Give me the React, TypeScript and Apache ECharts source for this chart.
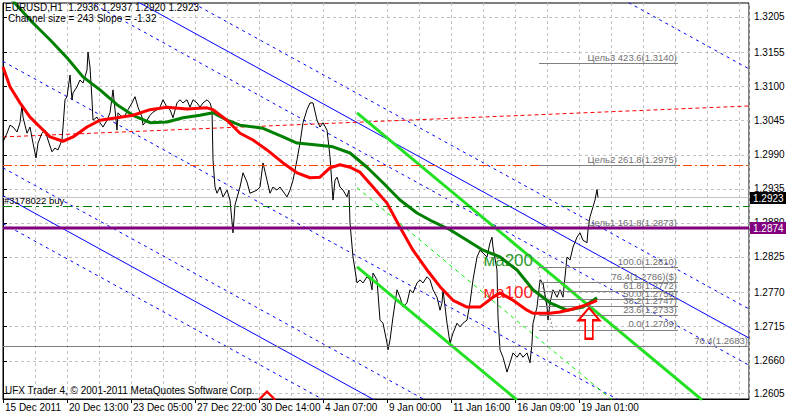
import React, { useEffect, useRef } from 'react';
import * as echarts from 'echarts';

const FONT = 'Liberation Sans, Arial, sans-serif';

// X axis: bar index (H1 bars)
const X_MAX = 746;
const X_LABEL_POS = [0, 64, 128, 192, 256, 320, 384, 448, 512, 576];
const X_LABELS = ['15 Dec 2011', '20 Dec 13:00', '23 Dec 05:00', '27 Dec 22:00', '30 Dec 14:00', '4 Jan 07:00', '9 Jan 00:00', '11 Jan 16:00', '16 Jan 09:00', '19 Jan 01:00'];

// Y axis
const Y_MIN = 1.25975;
const Y_MAX = 1.32374;
const Y_TICKS = [1.2607, 1.2659, 1.2715, 1.2770, 1.2827, 1.2882, 1.2937, 1.2992, 1.3048, 1.3103, 1.3158, 1.3215];
const Y_LABELS = ['1.2605', '1.2660', '1.2715', '1.2770', '1.2825', '1.2880', '1.2935', '1.2990', '1.3045', '1.3100', '1.3155', '1.3205'];

// Close prices [bar, price]
const PRICE: [number, number][] = [
  [0, 1.3013], [4, 1.3027], [7, 1.3040], [10, 1.3037], [14, 1.3029], [17, 1.3044], [19, 1.3073], [20, 1.3053], [24, 1.3027], [27, 1.3037],
  [30, 1.3011], [33, 1.2987], [35, 1.3011], [39, 1.3027], [42, 1.3032], [45, 1.3016], [49, 1.2997], [52, 1.3003], [55, 1.3000], [59, 1.3016],
  [60, 1.3037], [62, 1.3081], [64, 1.3086], [67, 1.3121], [69, 1.3081], [70, 1.3092], [74, 1.3102], [77, 1.3113], [80, 1.3108], [84, 1.3129],
  [85, 1.3158], [87, 1.3134], [89, 1.3081], [90, 1.3048], [94, 1.3053], [97, 1.3044], [100, 1.3037], [104, 1.3048], [107, 1.3060], [110, 1.3097],
  [112, 1.3065], [114, 1.3032], [115, 1.3060], [119, 1.3053], [122, 1.3056], [125, 1.3065], [129, 1.3076], [132, 1.3086], [135, 1.3069], [139, 1.3053],
  [140, 1.3040], [144, 1.3048], [147, 1.3056], [150, 1.3061], [154, 1.3065], [157, 1.3069], [160, 1.3081], [164, 1.3069], [167, 1.3065], [170, 1.3052],
  [174, 1.3076], [177, 1.3081], [180, 1.3076], [184, 1.3081], [187, 1.3069], [190, 1.3081], [194, 1.3076], [197, 1.3069], [200, 1.3076], [204, 1.3081],
  [207, 1.3076], [209, 1.3065], [210, 1.2984], [212, 1.2940], [214, 1.2930], [217, 1.2940], [220, 1.2924], [224, 1.2935], [227, 1.2919], [230, 1.2866],
  [232, 1.2911], [237, 1.2940], [240, 1.2963], [244, 1.2948], [247, 1.2930], [254, 1.2935], [257, 1.2940], [260, 1.2979], [264, 1.2951], [267, 1.2930],
  [270, 1.2940], [274, 1.2935], [277, 1.2940], [284, 1.2924], [287, 1.2935], [290, 1.2951], [294, 1.2984], [297, 1.3011], [300, 1.3044], [304, 1.3065],
  [307, 1.3076], [310, 1.3076], [314, 1.3048], [317, 1.3037], [320, 1.3044], [324, 1.3032], [327, 1.2989], [330, 1.2919], [332, 1.2951], [334, 1.2956],
  [337, 1.2940], [340, 1.2935], [344, 1.2924], [346, 1.2935], [347, 1.2882], [350, 1.2827], [354, 1.2785], [357, 1.2790], [360, 1.2785], [364, 1.2795],
  [367, 1.2790], [369, 1.2774], [370, 1.2801], [374, 1.2790], [377, 1.2725], [380, 1.2720], [384, 1.2688], [385, 1.2677], [387, 1.2693], [390, 1.2730],
  [394, 1.2774], [397, 1.2762], [400, 1.2746], [404, 1.2753], [407, 1.2774], [410, 1.2769], [414, 1.2785], [417, 1.2790], [420, 1.2785], [424, 1.2795],
  [427, 1.2790], [430, 1.2774], [434, 1.2762], [437, 1.2741], [439, 1.2753], [440, 1.2774], [444, 1.2720], [447, 1.2688], [450, 1.2704], [454, 1.2720],
  [457, 1.2714], [460, 1.2720], [464, 1.2725], [467, 1.2753], [470, 1.2790], [474, 1.2827], [477, 1.2838], [484, 1.2827], [487, 1.2850], [489, 1.2859],
  [490, 1.2843], [494, 1.2806], [495, 1.2730], [497, 1.2677], [500, 1.2665], [504, 1.2641], [507, 1.2656], [510, 1.2672], [514, 1.2665], [517, 1.2672],
  [520, 1.2665], [524, 1.2672], [527, 1.2656], [529, 1.2688], [530, 1.2720], [534, 1.2746], [537, 1.2790], [540, 1.2785], [544, 1.2746], [545, 1.2725],
  [547, 1.2753], [550, 1.2774], [554, 1.2762], [557, 1.2774], [560, 1.2762], [562, 1.2795], [564, 1.2827], [567, 1.2822], [570, 1.2843], [574, 1.2859],
  [577, 1.2866], [580, 1.2854], [584, 1.2850], [585, 1.2871], [587, 1.2892], [590, 1.2908], [592, 1.2919], [594, 1.2936], [595, 1.2923],
];

const MA200: [number, number][] = [
  [0, 1.3258], [12, 1.3237], [30, 1.3205], [47, 1.3178], [64, 1.3149], [80, 1.3118], [97, 1.3097], [114, 1.3073], [130, 1.3056], [147, 1.3044],
  [164, 1.3045], [180, 1.3052], [197, 1.3056], [210, 1.3060], [224, 1.3048], [237, 1.3040], [260, 1.3035], [280, 1.3021], [294, 1.3011], [314, 1.3008],
  [330, 1.3005], [347, 1.2995], [364, 1.2972], [380, 1.2947], [397, 1.2919], [414, 1.2898], [430, 1.2884], [447, 1.2871], [464, 1.2854], [480, 1.2838],
  [497, 1.2827], [514, 1.2806], [530, 1.2774], [547, 1.2753], [564, 1.2741], [580, 1.2746], [594, 1.2761],
];

const MA100: [number, number][] = [
  [0, 1.3134], [7, 1.3102], [17, 1.3076], [27, 1.3053], [37, 1.3037], [47, 1.3021], [60, 1.3014], [70, 1.3021], [84, 1.3037], [97, 1.3048],
  [114, 1.3052], [130, 1.3056], [147, 1.3065], [164, 1.3069], [184, 1.3066], [204, 1.3068], [210, 1.3065], [224, 1.3048], [237, 1.3027], [250, 1.3016],
  [264, 1.3000], [280, 1.2979], [294, 1.2963], [307, 1.2955], [317, 1.2956], [327, 1.2971], [337, 1.2976], [347, 1.2972], [357, 1.2964], [370, 1.2940],
  [384, 1.2914], [397, 1.2875], [410, 1.2838], [424, 1.2806], [437, 1.2779], [450, 1.2757], [464, 1.2746], [477, 1.2746], [490, 1.2762], [497, 1.2769],
  [510, 1.2757], [524, 1.2741], [530, 1.2736], [547, 1.2736], [557, 1.2738], [570, 1.2743], [584, 1.2750], [594, 1.2757],
];

// Regression channel lines: [price at bar 0, price at bar X_MAX]
const BLUE_SOLID: [number, number][] = [[1.3359, 1.2696], [1.2926, 1.2263]];
const BLUE_DOTTED: [number, number][] = [[1.3794, 1.3131], [1.3406, 1.2743], [1.3316, 1.2652], [1.3143, 1.2480], [1.2971, 1.2308], [1.2881, 1.2218]];
const RED_DOTTED: [number, number][] = [[0, 1.3021], [746, 1.3071]];

// Green trend channel
const GREEN_A: [number, number][] = [[354, 1.3060], [699, 1.2596]];
const GREEN_B: [number, number][] = [[354, 1.2811], [514, 1.2596]];
const GREEN_MID: [number, number][] = [[354, 1.2939], [609, 1.2596]];
const FIB_TREND: [number, number][] = [[535, 1.2810], [550, 1.2709]];

// Horizontal levels
const ORANGE_LEVEL = 1.2975;
const BUY_LEVEL = 1.2909;
const BUY_TEXT = '#3178022 buy';
const PURPLE_LEVEL = 1.2874;
const BID_LEVEL = 1.2923;
const GRAY_LEVEL = 1.2683;
const GRAY_TEXT = '76.4(1.2683)';

// Fibonacci
const FIB_X: [number, number] = [536, 675];
const FIB_LEVELS = [1.3140, 1.2975, 1.2873, 1.2810, 1.2786, 1.2772, 1.2759, 1.2747, 1.2733, 1.2709];
const FIB_TEXT = ['Цель3 423.6(1.3140)', 'Цель2 261.8(1.2975)', 'Цель1 161.8(1.2873)', '100.0(1.2810)', '76.4(1.2786)($)', '61.8(1.2772)', '50.0(1.2759)', '38.2(1.2747)', '23.6(1.2733)', '0.0(1.2709)'];

// Annotations
const MA200_TEXT_AT: [number, number] = [480, 1.2821];
const MA100_TEXT_AT: [number, number] = [480, 1.2770];
const ARROW_AT: [number, number] = [586, 1.2720];
const CHEVRON_AT: [number, number] = [264, 1.2603];

const HEADER1 = 'EURUSD,H1  1.2936 1.2937 1.2920 1.2923';
const HEADER2 = 'Channel size = 243 Slope = -1.32';
const COPYRIGHT = 'UFX Trader 4, © 2001-2011 MetaQuotes Software Corp.';

function seg(data: [number, number][], color: string, width: number, type: any, z = 2) {
  return {
    type: 'line', data, symbol: 'none', silent: true, z,
    lineStyle: { color, width, type },
  };
}

function baseGraphics() {
  return [
    { id: 'h1', type: 'text', left: 5, top: 2, z: 100, style: { text: HEADER1, fill: '#000', font: `10px ${FONT}` } },
    { id: 'h2', type: 'text', left: 8, top: 13, z: 100, style: { text: HEADER2, fill: '#000', font: `10px ${FONT}` } },
    { id: 'cp', type: 'text', left: 5, top: 385, z: 100, style: { text: COPYRIGHT, fill: '#000', font: `10px ${FONT}` } },
  ];
}

function buildOption() {
  const series: any[] = [];
  BLUE_DOTTED.forEach((p) => series.push(seg([[0, p[0]], [X_MAX, p[1]]], '#0000ff', 1, [3, 4])));
  BLUE_SOLID.forEach((p) => series.push(seg([[0, p[0]], [X_MAX, p[1]]], '#0000ff', 1, 'solid')));
  series.push(seg(RED_DOTTED, '#ff0000', 1, [4, 3]));
  series.push(seg(GREEN_MID, '#00ee00', 1, [4, 4]));
  series.push(seg(FIB_TREND, '#909090', 1, [2, 2]));
  series.push(seg([[0, BID_LEVEL], [X_MAX, BID_LEVEL]], '#c0c0c0', 1, 'solid', 2));

  const labelBase = { fontFamily: FONT, fontSize: 9.5 };
  const fibLines = FIB_LEVELS.map((v, i) => [
    {
      coord: [FIB_X[0], v],
      lineStyle: { color: '#808080', width: 1, type: 'solid' },
      label: { show: true, position: 'insideEndTop', formatter: FIB_TEXT[i], color: '#707070', distance: 1, ...labelBase },
    },
    { coord: [FIB_X[1], v] },
  ]);

  series.push({
    type: 'line', data: PRICE, symbol: 'none', silent: true, z: 3,
    lineStyle: { color: '#000', width: 1 },
    markLine: {
      symbol: ['none', 'none'], silent: true, animation: false, precision: 5,
      data: [
        { yAxis: ORANGE_LEVEL, lineStyle: { color: '#ff4500', width: 1, type: [9, 3, 2, 3] }, label: { show: false } },
        { yAxis: BUY_LEVEL, lineStyle: { color: '#008000', width: 1, type: [9, 4, 3, 4] }, label: { show: true, position: 'insideStartTop', formatter: BUY_TEXT, color: '#000', distance: 1, ...labelBase } },
        { yAxis: GRAY_LEVEL, lineStyle: { color: '#808080', width: 1, type: 'solid' }, label: { show: true, position: 'insideEndTop', formatter: GRAY_TEXT, color: '#707070', distance: 1, ...labelBase } },
        ...fibLines,
      ],
    },
  });

  series.push(seg(GREEN_A, '#22e022', 3, 'solid', 4));
  series.push(seg(GREEN_B, '#22e022', 3, 'solid', 4));

  series.push({
    type: 'line', data: MA200, symbol: 'none', silent: true, z: 5,
    lineStyle: { color: '#008000', width: 3 },
    markPoint: {
      silent: true, animation: false,
      data: [{ coord: MA200_TEXT_AT, symbol: 'rect', symbolSize: 1, itemStyle: { color: 'rgba(0,0,0,0)' }, label: { show: true, position: 'right', distance: 0, formatter: 'ма200', color: '#2e9a2e', fontSize: 17, fontFamily: FONT } }],
    },
  });
  series.push({
    type: 'line', data: MA100, symbol: 'none', silent: true, z: 6,
    lineStyle: { color: '#ff0000', width: 3 },
    markPoint: {
      silent: true, animation: false,
      data: [{ coord: MA100_TEXT_AT, symbol: 'rect', symbolSize: 1, itemStyle: { color: 'rgba(0,0,0,0)' }, label: { show: true, position: 'right', distance: 0, formatter: 'ма100', color: '#ff2020', fontSize: 17, fontFamily: FONT } }],
    },
  });

  series.push({
    ...seg([[0, PURPLE_LEVEL], [X_MAX, PURPLE_LEVEL]], '#800080', 3, 'solid', 7),
    markPoint: {
      silent: true, animation: false,
      data: [
        { coord: ARROW_AT, symbol: 'path://M11,0 L22,13 L15,13 L15,32 L7,32 L7,13 L0,13 Z', symbolSize: [21, 31], itemStyle: { color: 'rgba(0,0,0,0)', borderColor: '#ff0000', borderWidth: 2 }, label: { show: false } },
        { coord: CHEVRON_AT, symbol: 'path://M0,8 L8,0 L16,8', symbolSize: [16, 8], itemStyle: { color: 'rgba(0,0,0,0)', borderColor: '#ff0000', borderWidth: 2 }, label: { show: false } },
      ],
    },
  });

  return {
    animation: false,
    backgroundColor: '#fff',
    textStyle: { fontFamily: FONT },
    grid: { left: 3, right: 37, top: 3, bottom: 17, show: true, borderColor: '#000', borderWidth: 1, backgroundColor: '#fff', containLabel: false, outerBoundsMode: 'none' },
    xAxis: [
      {
        type: 'value', min: 0, max: X_MAX, interval: 32, position: 'bottom',
        axisLine: { show: true, lineStyle: { color: '#000' } },
        axisTick: { show: false },
        splitLine: { show: true, lineStyle: { color: '#c0c0c0', type: [3, 3], width: 1 } },
        axisLabel: {
          customValues: X_LABEL_POS,
          formatter: (v: number) => { const i = X_LABEL_POS.indexOf(Math.round(v)); return i >= 0 ? X_LABELS[i] : ''; },
          align: 'left', margin: 3, color: '#000', fontSize: 10, fontFamily: FONT, padding: [0, 0, 0, 2],
        },
      },
      {
        type: 'value', min: 0, max: X_MAX, position: 'bottom',
        axisLine: { show: false }, axisLabel: { show: false }, splitLine: { show: false },
        axisTick: { show: true, customValues: X_LABEL_POS, length: 4, lineStyle: { color: '#000' } },
      },
    ],
    yAxis: {
      type: 'value', position: 'right', min: Y_MIN, max: Y_MAX, scale: true,
      axisLine: { show: true, lineStyle: { color: '#000' } },
      axisTick: { show: true, customValues: Y_TICKS, length: 4, lineStyle: { color: '#000' } },
      splitLine: { show: true, lineStyle: { color: '#c0c0c0', type: [3, 3], width: 1 } },
      axisLabel: {
        customValues: Y_TICKS,
        formatter: (v: number) => { const i = Y_TICKS.findIndex((t) => Math.abs(t - v) < 1e-7); return i >= 0 ? Y_LABELS[i] : ''; },
        margin: 5, color: '#000', fontSize: 10, fontFamily: FONT,
      },
    },
    graphic: baseGraphics(),
    series,
  };
}

function priceTag(id: string, x: number, y: number, text: string, bg: string) {
  return {
    id, type: 'group', x, y: Math.round(y) - 6, z: 200,
    children: [
      { type: 'rect', shape: { x: 0, y: 0, width: 36, height: 12 }, style: { fill: bg }, z: 200 },
      { type: 'text', x: 3, y: 1, style: { text, fill: '#fff', font: `10px ${FONT}` }, z: 201 },
    ],
  };
}

export default function App() {
  const ref = useRef<HTMLDivElement>(null);
  useEffect(() => {
    const chart = echarts.init(ref.current!, null, { renderer: 'svg' });
    chart.setOption(buildOption() as any);
    const xr = chart.convertToPixel({ xAxisIndex: 0 }, X_MAX) as number;
    const yBid = chart.convertToPixel({ yAxisIndex: 0 }, BID_LEVEL) as number;
    const yPur = chart.convertToPixel({ yAxisIndex: 0 }, PURPLE_LEVEL) as number;
    chart.setOption({
      graphic: [
        ...baseGraphics(),
        priceTag('tagBid', xr + 1, yBid, BID_LEVEL.toFixed(4), '#000'),
        priceTag('tagPur', xr + 1, yPur, PURPLE_LEVEL.toFixed(4), '#800080'),
      ],
    } as any);
    return () => chart.dispose();
  }, []);
  return <div ref={ref} style={{ position: 'fixed', left: 0, top: 0, width: 786, height: 416, background: '#fff' }} />;
}
